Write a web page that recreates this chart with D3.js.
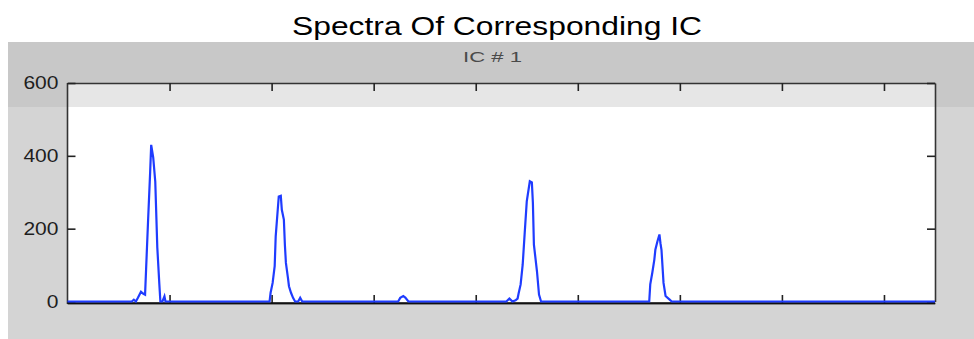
<!DOCTYPE html>
<html>
<head>
<meta charset="utf-8">
<script src="https://cdn.jsdelivr.net/npm/d3@7"></script>
<style>
  body { margin: 0; background: #fff; }
  text { font-family: "Liberation Sans", Arial, sans-serif; }
</style>
</head>
<body>
<div id="chart"></div>
<script>
// spectrum of IC #1 - breakpoints (x in samples, y magnitude)
const specX = [0,
  63, 65, 67, 69, 72, 74, 76, 77, 79, 81, 82, 84, 86, 88, 90, 91, 93, 95, 96,
  198, 199, 201, 203, 204, 206, 207, 209, 210, 212, 213, 214, 216, 217, 219, 221, 223, 226, 228, 230,
  324, 326, 329, 331, 334,
  430, 433, 436, 439, 441, 442, 444, 446, 448, 450, 453, 455, 456, 457, 460, 462, 464,
  570, 571, 573, 575, 576, 578, 580, 581, 582, 584, 586, 590, 592,
  850];
const specY = [0,
  0, 5, 0, 10, 27, 22, 19, 88, 225, 356, 430, 395, 329, 148, 47, 0, 0, 14, 0,
  0, 24, 51, 97, 179, 252, 288, 290, 252, 225, 156, 106, 65, 42, 24, 10, 0, 0, 10, 0,
  0, 10, 15, 11, 0,
  0, 8, 0, 3, 8, 22, 47, 101, 189, 275, 330, 327, 271, 156, 83, 19, 0,
  0, 47, 79, 115, 142, 165, 184, 160, 142, 51, 15, 5, 0,
  0];
const xTicks = [100, 200, 300, 400, 500, 600, 700, 800];
const yTicks = [0, 200, 400, 600];
const xDomain = [0, 850];
const yDomain = [0, 600];
const chartTitle = "Spectra Of Corresponding IC";
const axesTitle = "IC # 1";

const W = 974, H = 339;
const plot = { left: 67.5, right: 935, top: 83, bottom: 301.5 };

const svg = d3.select("#chart").append("svg")
  .attr("width", W)
  .attr("height", H);

// figure panel (grey), darker strip on top
svg.append("rect").attr("x", 8).attr("y", 42).attr("width", W - 8).attr("height", H - 42)
  .attr("fill", "#d4d4d4");
svg.append("rect").attr("x", 8).attr("y", 42).attr("width", W - 8).attr("height", 65)
  .attr("fill", "#c8c8c8");

// axes background
svg.append("rect").attr("x", plot.left).attr("y", plot.top)
  .attr("width", plot.right - plot.left).attr("height", plot.bottom - plot.top + 1)
  .attr("fill", "#fff");
svg.append("rect").attr("x", plot.left).attr("y", plot.top)
  .attr("width", plot.right - plot.left).attr("height", 107 - plot.top)
  .attr("fill", "#e6e6e6");

let x = d3.scaleLinear().domain(xDomain).range([plot.left, plot.right]);
let y = d3.scaleLinear().domain(yDomain).range([plot.bottom, plot.top]);

// box + inward ticks
let g = svg.append("g");

g.append("g")
  .attr("transform", "translate(0," + (plot.bottom + 1.5) + ")")
  .call(d3.axisBottom(x).tickValues(xTicks).tickSizeInner(-8).tickSizeOuter(0).tickFormat(""));
g.append("g")
  .attr("transform", "translate(0," + plot.top + ")")
  .call(d3.axisTop(x).tickValues(xTicks).tickSizeInner(-8).tickSizeOuter(0).tickFormat(""));
g.append("g")
  .attr("class", "yleft")
  .attr("transform", "translate(" + plot.left + ",0)")
  .call(d3.axisLeft(y).tickValues(yTicks).tickSizeInner(-8).tickSizeOuter(0).tickPadding(9));
g.append("g")
  .attr("transform", "translate(" + plot.right + ",0)")
  .call(d3.axisRight(y).tickValues(yTicks).tickSizeInner(-8).tickSizeOuter(0).tickFormat(""));

g.selectAll(".domain").attr("stroke", "#333").attr("stroke-width", 1.6);
g.selectAll(".tick line").attr("stroke", "#222").attr("stroke-width", 1.6);
g.select(".yleft .domain").attr("d", "M0," + (plot.top) + "V" + (plot.bottom + 2.5));

// bottom axis line a bit heavier
g.append("line")
  .attr("x1", plot.left).attr("x2", plot.right)
  .attr("y1", plot.bottom + 1.8).attr("y2", plot.bottom + 1.8)
  .attr("stroke", "#111").attr("stroke-width", 2);

g.selectAll(".yleft .tick text")
  .attr("font-family", "Liberation Sans, Arial, sans-serif")
  .attr("font-size", 18)
  .attr("fill", "#1e1e1e")
  .attr("textLength", function (d) { return String(d).length * 11.7; })
  .attr("lengthAdjust", "spacingAndGlyphs");

// spectrum line
const pts = specX.map(function (d, i) { return [d, specY[i]]; });
const line = d3.line()
  .x(function (d) { return x(d[0]); })
  .y(function (d) { return y(d[1]); });

svg.append("path")
  .datum(pts)
  .attr("d", line)
  .attr("fill", "none")
  .attr("stroke", "#1f3cff")
  .attr("stroke-width", 2.2)
  .attr("stroke-linejoin", "miter");

// titles
svg.append("text")
  .attr("x", 497).attr("y", 35)
  .attr("text-anchor", "middle")
  .attr("font-size", 25)
  .attr("textLength", 410)
  .attr("lengthAdjust", "spacingAndGlyphs")
  .attr("fill", "#000")
  .text(chartTitle);

svg.append("text")
  .attr("x", 492.5).attr("y", 62)
  .attr("text-anchor", "middle")
  .attr("font-size", 15)
  .attr("textLength", 59)
  .attr("lengthAdjust", "spacingAndGlyphs")
  .attr("fill", "#4a4a4a")
  .text(axesTitle);
</script>
</body>
</html>
